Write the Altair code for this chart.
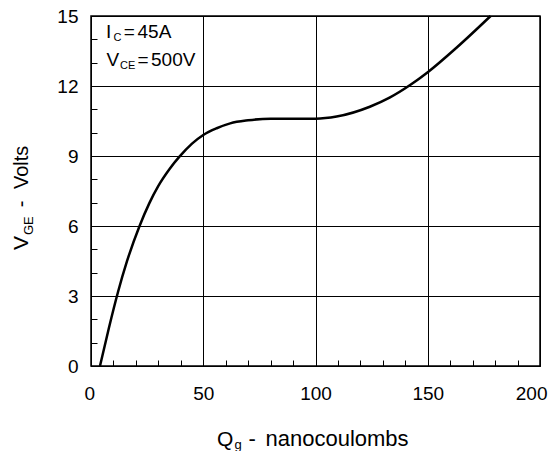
import altair as alt
import pandas as pd

# Gate charge curve
q_nc = [4, 8, 12, 16, 21.5, 26, 30, 35, 39.3, 45, 50, 56, 62, 70, 80, 90, 100,
        109.4, 124.2, 133, 142, 150, 162.8, 178]
v_ge = [0, 1.64, 3.16, 4.48, 5.97, 6.98, 7.72, 8.445, 8.96, 9.53, 9.9, 10.19, 10.4, 10.53,
        10.6, 10.6, 10.6, 10.69, 11.11, 11.5, 12.03, 12.59, 13.64, 15]

x_major = [0, 50, 100, 150, 200]
y_major = [0, 3, 6, 9, 12, 15]
x_minor = list(range(0, 201, 10))
y_minor = list(range(0, 16))

# text pieces
ann1 = ["I", "C", "=", "45A"]
ann2 = ["V", "CE", "=", "500V"]
xtitle = ["Q", "g", "-", "nanocoulombs"]
ytitle = ["V", "GE", "-", "Volts"]

df = pd.DataFrame({"Qg": q_nc, "VGE": v_ge})

W, H = 449, 350
OX, OY = 91, 16
FONT = "Liberation Sans"

xs = alt.Scale(domain=[0, 200], nice=False, zero=False)
ys = alt.Scale(domain=[0, 15], nice=False, zero=False)

base = alt.Chart(df)

line = base.mark_line(color="black", strokeWidth=2.5, interpolate="monotone").encode(
    x=alt.X("Qg:Q", scale=xs, axis=alt.Axis(
        values=x_major, grid=True, ticks=False, tickSize=0, domain=False,
        labelFont=FONT, labelFontSize=19, labelColor="black", labelPadding=18,
        labelFlush=True, labelFlushOffset=7, title=None,
        gridColor="black", gridWidth=1, gridOpacity=1)),
    y=alt.Y("VGE:Q", scale=ys, axis=alt.Axis(
        values=y_major, grid=True, ticks=False, tickSize=0, domain=False,
        labelFont=FONT, labelFontSize=19, labelColor="black", labelPadding=13,
        labelFlush=False, title=None, gridColor="black", gridWidth=1, gridOpacity=1)),
)

minor = base.mark_point(opacity=0).encode(
    x=alt.X("Qg:Q", scale=xs, axis=alt.Axis(
        orient="top", offset=-H, values=x_minor, grid=False, labels=False,
        ticks=True, tickSize=6, tickColor="black", tickWidth=1, domain=False, title=None)),
    y=alt.Y("VGE:Q", scale=ys, axis=alt.Axis(
        orient="right", offset=-W, values=y_minor, grid=False, labels=False,
        ticks=True, tickSize=6, tickColor="black", tickWidth=1, domain=False, title=None)),
)


def txt(s, px, py, size, angle=0, align="left"):
    return alt.Chart(pd.DataFrame({"t": [s]})).mark_text(
        align=align, baseline="alphabetic", font=FONT, fontSize=size,
        color="black", angle=angle
    ).encode(x=alt.value(px - OX), y=alt.value(py - OY), text="t:N")


texts = [
    txt(ann1[0], 106, 37.5, 19),
    txt(ann1[1], 113.5, 40.5, 11),
    txt(ann1[2], 123.8, 37.5, 19),
    txt(ann1[3], 137.5, 37.5, 19),
    txt(ann2[0], 106.5, 65.7, 19),
    txt(ann2[1], 120, 68.5, 11),
    txt(ann2[2], 137.5, 65.7, 19),
    txt(ann2[3], 151, 65.7, 19),
    txt(xtitle[0], 217, 446, 21),
    txt(xtitle[1], 234.5, 448.5, 13),
    txt(xtitle[2], 248.5, 446, 22),
    txt(xtitle[3], 265.5, 446, 22),
    txt(ytitle[0], 28, 250, 21, angle=270),
    txt(ytitle[1], 33, 235, 13, angle=270),
    txt(ytitle[2], 28, 204, 20, angle=270, align="center"),
    txt(ytitle[3], 28, 189, 20, angle=270),
]

chart = alt.layer(line, minor, *texts).resolve_axis(
    x="independent", y="independent"
).properties(
    width=W, height=H,
    autosize=alt.AutoSizeParams(type="none"),
    padding={"left": 83, "top": 8, "right": 10, "bottom": 85},
    background="white",
).configure_view(stroke="black", strokeWidth=1.5)

chart.save("out.html", embed_options={"renderer": "svg", "actions": False})
